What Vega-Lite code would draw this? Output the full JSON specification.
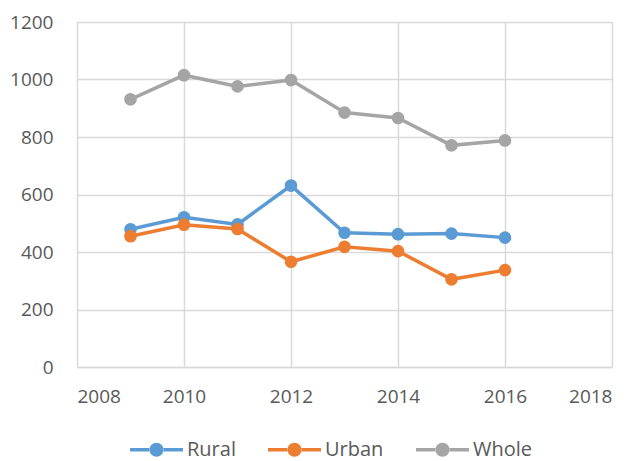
{
  "$schema": "https://vega.github.io/schema/vega-lite/v6.json",
  "width": 535,
  "height": 345,
  "autosize": {"type": "none"},
  "padding": {"left": 77, "top": 22, "right": 25, "bottom": 94},
  "background": "white",
  "config": {
    "view": {"stroke": null},
    "font": "Open Sans",
    "axis": {
      "labelFont": "Open Sans",
      "labelFontSize": 19,
      "labelColor": "#595959",
      "gridColor": "#d9d9d9",
      "gridWidth": 1.5,
      "domainColor": "#d9d9d9",
      "domainWidth": 1.5,
      "ticks": false,
      "title": null
    },
    "legend": {
      "labelFont": "Open Sans",
      "labelFontSize": 20,
      "labelColor": "#595959"
    }
  },
  "data": {
    "values": [
      {"year": 2009, "series": "Rural", "value": 479},
      {"year": 2010, "series": "Rural", "value": 521},
      {"year": 2011, "series": "Rural", "value": 496},
      {"year": 2012, "series": "Rural", "value": 631},
      {"year": 2013, "series": "Rural", "value": 467},
      {"year": 2014, "series": "Rural", "value": 462},
      {"year": 2015, "series": "Rural", "value": 464},
      {"year": 2016, "series": "Rural", "value": 450},
      {"year": 2009, "series": "Urban", "value": 455},
      {"year": 2010, "series": "Urban", "value": 495},
      {"year": 2011, "series": "Urban", "value": 480},
      {"year": 2012, "series": "Urban", "value": 366},
      {"year": 2013, "series": "Urban", "value": 418},
      {"year": 2014, "series": "Urban", "value": 403},
      {"year": 2015, "series": "Urban", "value": 305},
      {"year": 2016, "series": "Urban", "value": 337},
      {"year": 2009, "series": "Whole", "value": 931},
      {"year": 2010, "series": "Whole", "value": 1015},
      {"year": 2011, "series": "Whole", "value": 976},
      {"year": 2012, "series": "Whole", "value": 998},
      {"year": 2013, "series": "Whole", "value": 885},
      {"year": 2014, "series": "Whole", "value": 866},
      {"year": 2015, "series": "Whole", "value": 771},
      {"year": 2016, "series": "Whole", "value": 788}
    ]
  },
  "encoding": {
    "x": {
      "field": "year",
      "type": "quantitative",
      "scale": {"domain": [2008, 2018], "nice": false, "zero": false},
      "axis": {"values": [2008, 2010, 2012, 2014, 2016, 2018], "format": "d", "labelPadding": 20}
    },
    "y": {
      "field": "value",
      "type": "quantitative",
      "scale": {"domain": [0, 1200], "nice": false},
      "axis": {"values": [0, 200, 400, 600, 800, 1000, 1200], "format": "d", "labelPadding": 24, "domain": false}
    },
    "color": {
      "field": "series",
      "type": "nominal",
      "scale": {"domain": ["Rural", "Urban", "Whole"], "range": ["#5B9BD5", "#ED7D31", "#A5A5A5"]},
      "legend": {
        "title": null,
        "orient": "none",
        "direction": "horizontal",
        "legendX": 53,
        "legendY": 401,
        "symbolType": "M-1,-0.066H-0.25V0.066H-1Z M0.25,-0.066H1V0.066H0.25Z M-0.264,0A0.264,0.264 0 1,0 0.264,0A0.264,0.264 0 1,0 -0.264,0Z",
        "symbolSize": 2809,
        "symbolStrokeWidth": 0,
        "symbolOpacity": 1,
        "labelOffset": 4,
        "columnPadding": 32
      }
    }
  },
  "layer": [
    {"mark": {"type": "line", "strokeWidth": 3.5}},
    {"mark": {"type": "point", "filled": true, "size": 160, "opacity": 1}}
  ]
}
